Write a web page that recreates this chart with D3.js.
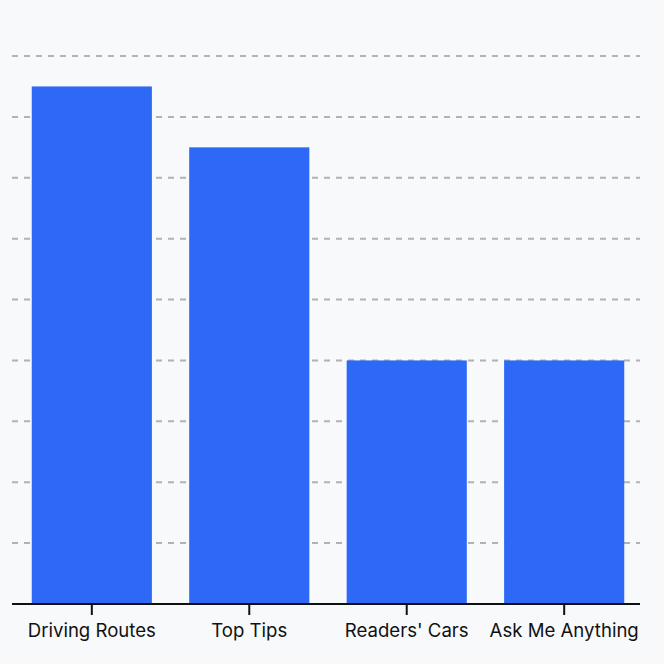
<!DOCTYPE html>
<html>
<head>
<meta charset="utf-8">
<script src="https://cdn.jsdelivr.net/npm/d3@7"></script>
<style>
  html, body { margin: 0; padding: 0; background: #f8f9fb; }
  svg { display: block; }
  .tick text { font-family: Inter, "Noto Sans", sans-serif; }
</style>
</head>
<body>
<div id="chart"></div>
<script>
// data
const categories = ["Driving Routes", "Top Tips", "Readers' Cars", "Ask Me Anything"];
const counts = [17, 15, 8, 8];
const gridTicks = [2, 4, 6, 8, 10, 12, 14, 16, 18];

const W = 664, H = 664;

const svg = d3.select("#chart").append("svg")
    .attr("width", W)
    .attr("height", H);

svg.append("rect")
    .attr("width", W).attr("height", H)
    .attr("fill", "#f8f9fb");

let x = d3.scaleBand()
    .domain(categories)
    .range([16, 640])
    .paddingInner(0.237)
    .paddingOuter(0.1);

let y = d3.scaleLinear()
    .domain([0, 18])
    .range([604, 56]);

// dashed grid, behind the bars
svg.append("g")
    .selectAll("line")
    .data(gridTicks)
    .join("line")
    .attr("x1", 12).attr("x2", 640)
    .attr("y1", d => y(d)).attr("y2", d => y(d))
    .attr("stroke", "#b2b2b2")
    .attr("stroke-width", 2)
    .attr("stroke-dasharray", "6,6");

svg.append("g")
    .selectAll("rect")
    .data(categories)
    .join("rect")
    .attr("x", d => x(d))
    .attr("width", x.bandwidth())
    .attr("y", (d, i) => y(counts[i]))
    .attr("height", (d, i) => y(0) - y(counts[i]))
    .attr("fill", "#2d69f6");

let axis = svg.append("g")
    .attr("transform", `translate(0,${y(0)})`)
    .call(d3.axisBottom(x).tickSize(11).tickPadding(9));

axis.select(".domain").remove();
axis.selectAll(".tick line").attr("stroke", "#111").attr("stroke-width", 2);
axis.selectAll(".tick text")
    .attr("fill", "#111")
    .style("font-size", "18.6px");

axis.append("line")
    .attr("x1", 12).attr("x2", 640)
    .attr("y1", 0).attr("y2", 0)
    .attr("stroke", "#111")
    .attr("stroke-width", 2);
</script>
</body>
</html>
